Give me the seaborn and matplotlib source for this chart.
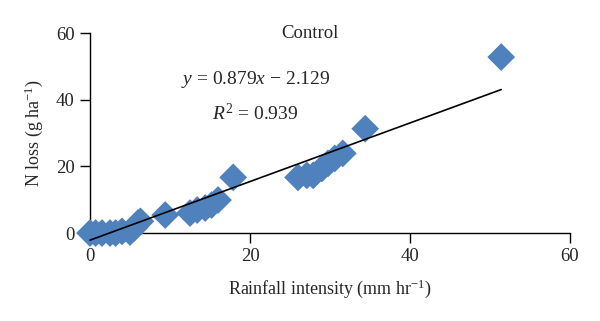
import matplotlib
matplotlib.use("Agg")
import matplotlib.pyplot as plt
import seaborn as sns
import numpy as np
import pandas as pd

rainfall = [0.0, 0.7, 1.5, 2.5, 3.2, 4.0, 5.0, 5.5, 6.0, 6.3,
            9.4, 12.5, 13.4, 14.4, 15.2, 16.0, 17.9,
            26.0, 27.1, 27.9, 29.0, 29.75, 30.6, 31.6, 34.4, 51.4]
n_loss = [0.0, 0.0, 0.0, 0.0, 0.0, 0.5, 0.3, 1.5, 3.0, 3.5,
          5.4, 6.0, 6.9, 7.5, 8.4, 9.9, 16.7,
          16.7, 17.3, 17.3, 19.4, 20.9, 22.4, 23.9, 31.3, 52.8]
slope = 0.879
intercept = -2.129
title = "Control"
eq_text = r"$y$ = 0.879$x$ − 2.129"
r2_text = r"$R^2$ = 0.939"

df = pd.DataFrame({"x": rainfall, "y": n_loss})

sns.set_style("white")
plt.rcParams["font.family"] = ["Liberation Serif", "DejaVu Serif"]
plt.rcParams["mathtext.fontset"] = "custom"
plt.rcParams["mathtext.it"] = "Liberation Serif:italic"
plt.rcParams["mathtext.rm"] = "Liberation Serif"

fig = plt.figure(figsize=(6.0, 3.21), dpi=100)
ax = fig.add_axes([0.15, 0.274, 0.80, 0.623])

sns.scatterplot(data=df, x="x", y="y", marker="D", s=200, color="#4F81BD",
                edgecolor="none", ax=ax, zorder=2, clip_on=False)
xl = np.array([0.0, max(rainfall)])
ax.plot(xl, slope * xl + intercept, color="black", lw=1.2, zorder=3, clip_on=False)

ax.set_xlim(0, 60)
ax.set_ylim(0, 60)
ax.set_xticks([0, 20, 40, 60])
ax.set_yticks([0, 20, 40, 60])
for s in ["top", "right"]:
    ax.spines[s].set_visible(False)
for s in ["left", "bottom"]:
    ax.spines[s].set_color("black")
    ax.spines[s].set_linewidth(1.0)
    ax.spines[s].set_zorder(1)
ax.tick_params(axis="both", direction="out", length=7, width=1.0, color="black",
               labelsize=13.5, pad=4, left=True, bottom=True)
ax.set_xlabel(r"Rainfall intensity (mm hr$^{-1}$)", fontsize=13, labelpad=9)
ax.set_ylabel(r"N loss (g ha$^{-1}$)", fontsize=13, labelpad=8)
ax.text(0.458, 1.0, title, transform=ax.transAxes, ha="center", va="center", fontsize=13.5)
ax.text(0.345, 0.77, eq_text, transform=ax.transAxes, ha="center", va="center", fontsize=14)
ax.text(0.345, 0.60, r2_text, transform=ax.transAxes, ha="center", va="center", fontsize=14)

fig.savefig("out.png", dpi=100)
